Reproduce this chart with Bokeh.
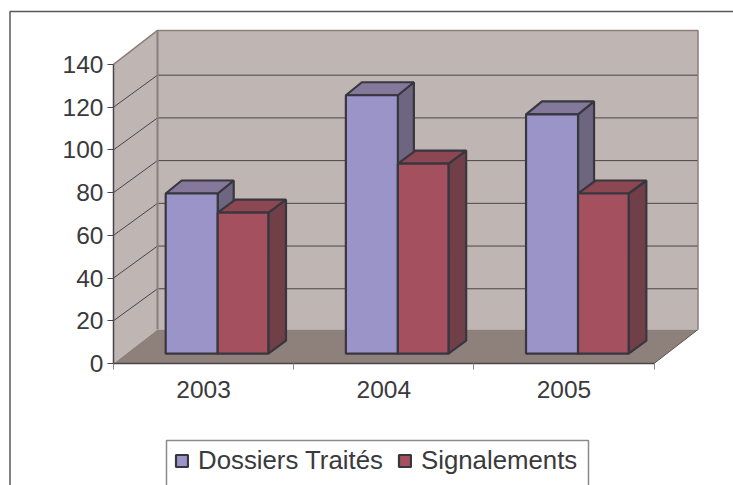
from bokeh.plotting import figure
from bokeh.models import Range1d, LinearAxis, FixedTicker, Legend, LegendItem
from bokeh.embed import file_html
from bokeh.resources import INLINE

categories = ["2003", "2004", "2005"]
dossiers = [75, 121, 112]
signalements = [66, 89, 75]
y_ticks = [0, 20, 40, 60, 80, 100, 120, 140]
legend_labels = ["Dossiers Traités", "Signalements"]

W, H = 733, 485
PX_X = 180.17
PX_Y = 2.136
ORIGIN_X, ORIGIN_Y = 113.0, 363.0   # pixels of the front-left floor corner

def X(px):
    return (px - ORIGIN_X) / PX_X

def Y(px):
    return (ORIGIN_Y - px) / PX_Y

p = figure(width=W, height=H, output_backend="svg", toolbar_location=None,
           x_range=Range1d(X(0), X(W)), y_range=Range1d(Y(H), Y(0)),
           min_border=0, min_border_left=0, min_border_right=0,
           min_border_top=0, min_border_bottom=0,
           x_axis_type=None, y_axis_type=None)
p.grid.visible = False
p.outline_line_color = None
p.background_fill_color = "white"
p.border_fill_color = "white"

# depth of the chart box and of the bars, as data-unit offsets
WALL_DX, WALL_DY = 44 / PX_X, 34 / PX_Y
GRID_DY = 32 / PX_Y
BAR_DY = 13 / PX_Y
BASE = 9.8 / PX_Y
TOP = y_ticks[-1]
N = len(categories)

WALL = "#bfb5b2"
FLOOR = "#8e807b"
EDGE = "#8c7f7b"
GRID = "#47464a"
BAR_LINE = "#38373f"
TEXT = "#3a3a3c"

# outer frame
p.line([X(9.5), X(9.5), X(733)], [Y(485), Y(11), Y(11)], line_color="#58585a", line_width=1.5)

# walls and floor
p.patch([0, WALL_DX, WALL_DX, 0], [0, WALL_DY, TOP + WALL_DY, TOP], fill_color=WALL, line_color=None)
p.patch([WALL_DX, N + WALL_DX, N + WALL_DX, WALL_DX],
        [WALL_DY, WALL_DY, TOP + WALL_DY, TOP + WALL_DY], fill_color=WALL, line_color=None)
p.patch([0, N, N + WALL_DX, WALL_DX], [0, 0, WALL_DY, WALL_DY], fill_color=FLOOR, line_color=None)

# grid lines on both walls
for v in y_ticks[1:-1]:
    p.line([0, WALL_DX, N + WALL_DX], [v, v + GRID_DY, v + GRID_DY], line_color=GRID, line_width=1)

# wall edges
p.line([0, WALL_DX, N + WALL_DX, N + WALL_DX], [TOP, TOP + WALL_DY, TOP + WALL_DY, WALL_DY],
       line_color=EDGE, line_width=1.5)
p.line([WALL_DX, WALL_DX], [WALL_DY, TOP + WALL_DY], line_color=EDGE, line_width=2)
p.line([N, N + WALL_DX], [0, WALL_DY], line_color="#5a5450", line_width=1)

# bars
def bars(values, x0, x1, depth, front, top, side):
    xs_top, ys_top, xs_side, ys_side = [], [], [], []
    lefts, rights, tops = [], [], []
    for i, v in enumerate(values):
        l, r, t = i + x0, i + x1, BASE + v
        lefts.append(l); rights.append(r); tops.append(t)
        xs_top.append([l, r, r + depth, l + depth])
        ys_top.append([t, t, t + BAR_DY, t + BAR_DY])
        xs_side.append([r, r + depth, r + depth, r])
        ys_side.append([BASE, BASE + BAR_DY, t + BAR_DY, t])
    p.patches(xs_side, ys_side, fill_color=side, line_color=BAR_LINE, line_width=2.2)
    p.patches(xs_top, ys_top, fill_color=top, line_color=BAR_LINE, line_width=2.2)
    return p.quad(left=lefts, right=rights, top=tops, bottom=BASE, fill_color=front,
                  line_color=BAR_LINE, line_width=2.2)

r1 = bars(dossiers, 52.2 / PX_X, 104.2 / PX_X, 16 / PX_X, "#9b94c8", "#84799b", "#6e6680")
r2 = bars(signalements, 104.2 / PX_X, 154.8 / PX_X, 17.7 / PX_X, "#a4505f", "#8c4752", "#713f47")

# axes
yaxis = LinearAxis(fixed_location=0, bounds=(0, TOP), ticker=FixedTicker(ticks=y_ticks),
                   axis_line_color="#47464a", axis_line_width=1.5,
                   major_tick_line_color="#47464a", major_tick_in=0, major_tick_out=6,
                   minor_tick_line_color=None, major_label_standoff=4,
                   major_label_text_font="Liberation Sans", major_label_text_font_size="24.5px",
                   major_label_text_color=TEXT)
p.add_layout(yaxis, "left")

centers = [i + 0.5 for i in range(N)]
xaxis = LinearAxis(fixed_location=0, bounds=(0, N),
                   ticker=FixedTicker(ticks=centers, minor_ticks=list(range(N + 1))),
                   major_label_overrides={c: n for c, n in zip(centers, categories)},
                   axis_line_color="#47464a", axis_line_width=1.5,
                   major_tick_line_color=None, major_tick_in=0, major_tick_out=0,
                   minor_tick_line_color="#8a8a8a", minor_tick_in=0, minor_tick_out=6,
                   major_label_standoff=11,
                   major_label_text_font="Liberation Sans", major_label_text_font_size="24.5px",
                   major_label_text_color=TEXT)
p.add_layout(xaxis, "below")

# legend box runs off the bottom of the page
p.line([X(166), X(166), X(588), X(588)], [Y(485), Y(440), Y(440), Y(485)],
       line_color="#8a8a8a", line_width=1.5)

legend = Legend(items=[LegendItem(label=legend_labels[0], renderers=[r1]),
                       LegendItem(label=legend_labels[1], renderers=[r2])],
                orientation="horizontal", location=(174, 10),
                padding=9, margin=0, spacing=14, glyph_width=15, glyph_height=15,
                label_standoff=9, label_text_font="Liberation Sans",
                label_text_font_size="25.8px", label_text_color=TEXT,
                border_line_color=None, background_fill_alpha=0)
p.add_layout(legend, "center")

open("out.html", "w").write(file_html(p, INLINE))
